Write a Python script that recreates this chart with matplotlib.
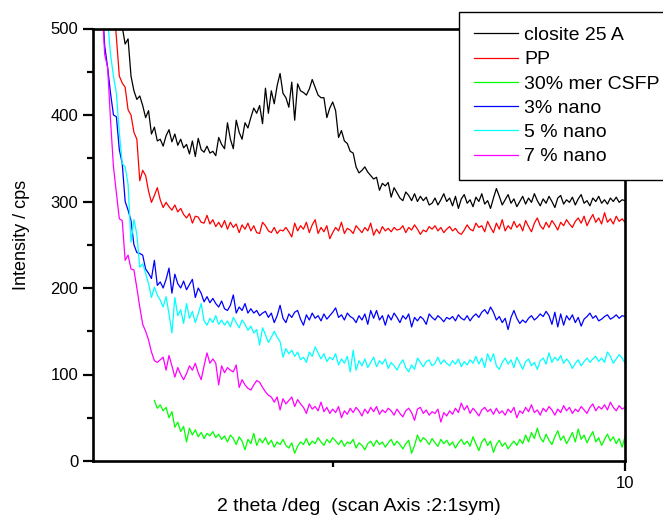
import numpy as np
import matplotlib
matplotlib.use("Agg")
import matplotlib.pyplot as plt

plt.rcParams['font.family'] = ['Liberation Sans', 'DejaVu Sans']

# 2 theta step of the scan (deg)
step = 0.05

# closite 25 A, from 1.00 deg
closite = [720, 690, 660, 630, 600, 575, 550, 525, 502, 482,
           488, 445, 428, 418, 422, 411, 397, 405, 378, 386,
           370, 372, 364, 376, 383, 369, 378, 365, 372, 362,
           366, 355, 370, 352, 373, 360, 357, 364, 356, 358,
           353, 374, 366, 361, 391, 372, 361, 394, 380, 372,
           391, 385, 397, 408, 402, 411, 390, 431, 402, 428,
           413, 434, 448, 425, 420, 409, 438, 394, 436, 428,
           426, 423, 430, 441, 432, 423, 420, 420, 397, 408,
           415, 405, 374, 382, 370, 367, 358, 356, 340, 333,
           336, 340, 334, 330, 326, 328, 313, 321, 318, 322,
           305, 316, 310, 304, 301, 311, 307, 301, 309, 300,
           306, 301, 305, 296, 298, 304, 296, 302, 309, 300,
           304, 295, 306, 292, 303, 308, 298, 302, 294, 305,
           300, 309, 297, 301, 292, 304, 315, 306, 296, 302,
           308, 298, 303, 294, 300, 306, 297, 304, 299, 309,
           301, 295, 303, 298, 306, 300, 293, 304, 307, 297,
           302, 299, 305, 296, 303, 308, 298, 301, 295, 304,
           300, 306, 298, 302, 297, 304, 300, 305, 299, 302, 301]

# PP, from 1.00 deg
pp = [720, 680, 640, 600, 565, 530, 490, 445, 437, 432,
      406, 400, 380, 372, 324, 336, 330, 312, 299, 307,
      316, 302, 293, 299, 294, 290, 296, 288, 292, 285,
      281, 286, 275, 283, 282, 276, 275, 284, 274, 279,
      271, 276, 270, 278, 268, 276, 270, 274, 264, 273,
      268, 275, 266, 272, 264, 263, 276, 272, 266, 264,
      270, 263, 267, 266, 270, 265, 259, 275, 266, 272,
      268, 276, 264, 273, 279, 263, 270, 265, 272, 257,
      264, 270, 266, 276, 263, 269, 267, 263, 272, 268,
      264, 270, 266, 275, 261, 268, 263, 271, 266, 269,
      265, 270, 267, 268, 272, 264, 270, 267, 273, 268,
      262, 267, 265, 271, 268, 272, 266, 270, 264, 268,
      271, 266, 269, 264, 262, 267, 273, 268, 266, 275,
      270, 272, 265, 277, 270, 264, 275, 268, 279, 266,
      272, 268, 277, 270, 274, 266, 278, 271, 265, 275,
      281, 272, 268, 276, 270, 278, 273, 267, 276, 272,
      279, 274, 270, 277, 281, 275, 283, 272, 279, 285,
      276, 281, 274, 287, 276, 280, 274, 283, 277, 280, 276]

# 30% mer CSFP, from 1.95 deg
csfp = [70, 61, 65, 58, 62, 50, 57, 39, 45, 34,
        40, 22, 38, 30, 36, 28, 33, 26, 32, 29,
        34, 27, 31, 25, 29, 22, 30, 26, 19, 28,
        23, 13, 25, 20, 32, 18, 26, 21, 27, 19,
        24, 16, 22, 19, 25, 18, 15, 21, 9, 17,
        22, 19, 26, 18, 23, 20, 27, 22, 18, 25,
        21, 27, 23, 19, 24, 17, 22, 20, 25, 15,
        21, 18, 13, 20, 23, 17, 24, 19, 22, 16,
        21, 25, 18, 23, 19, 14, 20, 24, 9, 18,
        30, 22, 27, 24, 19, 26, 21, 17, 25, 20,
        24, 18, 22, 15, 21, 25, 19, 23, 17, 28,
        20, 12, 22, 26, 18, 23, 10, 19, 24, 17,
        21, 14, 19, 23, 18, 25, 20, 30, 22, 33,
        26, 38, 27, 22, 31, 24, 19, 28, 35, 24,
        29, 20, 26, 33, 22, 37, 25, 30, 21, 28,
        34, 22, 27, 18, 25, 31, 23, 28, 20, 26,
        16, 28]

# 3% nano, from 1.00 deg
nano3 = [620, 540, 480, 455, 425, 400, 398, 360, 344, 300,
         290, 278, 250, 241, 240, 238, 222, 217, 211, 232,
         203, 207, 200, 210, 223, 194, 216, 205, 200, 208,
         198, 204, 210, 189, 200, 194, 184, 190, 183, 188,
         182, 178, 185, 176, 174, 180, 192, 171, 178, 174,
         182, 171, 176, 171, 174, 168, 171, 173, 166, 171,
         160, 168, 180, 165, 160, 170, 166, 172, 174, 164,
         157, 169, 163, 171, 165, 168, 162, 170, 164, 168,
         172, 177, 166, 169, 163, 171, 167, 165, 160, 168,
         163, 170, 158, 174, 165, 174, 163, 168, 157, 169,
         163, 171, 166, 160, 168, 164, 170, 155, 166, 162,
         167, 164, 158, 170, 166, 163, 168, 165, 161, 166,
         164, 167, 162, 169, 165, 163, 168, 162, 167, 170,
         166, 172, 175, 170, 178, 172, 163, 167, 160, 165,
         152, 166, 174, 165, 159, 163, 160, 165, 168, 163,
         166, 170, 167, 173, 168, 158, 172, 155, 170, 157,
         168, 163, 169, 160, 166, 156, 164, 167, 171, 165,
         168, 162, 164, 167, 169, 164, 166, 169, 165, 168, 167]

# 5 % nano, from 1.00 deg
nano5 = [700, 620, 560, 510, 470, 445, 425, 380, 344, 340,
         320, 253, 279, 262, 224, 228, 217, 205, 189, 201,
         192, 186, 178, 190, 170, 148, 189, 168, 175, 159,
         182, 165, 173, 160, 170, 182, 162, 157, 165, 160,
         168, 158, 163, 157, 162, 155, 166, 160, 154, 163,
         158, 151, 156, 148, 152, 134, 154, 146, 137, 143,
         150, 143, 138, 120, 130, 124, 128, 121, 126, 117,
         120, 114, 126, 121, 132, 125, 118, 124, 115, 120,
         117, 124, 111, 118, 113, 121, 103, 128, 105, 116,
         110, 118, 108, 114, 120, 109, 116, 112, 118, 107,
         114, 110, 105, 112, 117, 108, 103, 111, 106, 119,
         114, 109, 115, 117, 110, 113, 120, 112, 117, 113,
         110, 116, 112, 118, 109, 115, 111, 117, 113, 121,
         112, 119, 108, 124, 115, 124, 110, 106, 114, 119,
         112, 117, 108, 120, 113, 106, 115, 118, 110, 114,
         106, 116, 119, 112, 125, 114, 120, 116, 122, 113,
         118, 114, 107, 113, 117, 110, 115, 119, 114, 118,
         121, 115, 119, 114, 126, 121, 113, 118, 123, 119, 113]

# 7 % nano, from 1.00 deg
nano7 = [620, 530, 470, 455, 394, 340, 310, 280, 278, 232,
         238, 222, 221, 200, 178, 158, 150, 140, 126, 116,
         114, 117, 120, 105, 122, 110, 97, 108, 100, 94,
         101, 110, 105, 113, 102, 94, 110, 125, 113, 118,
         113, 88, 110, 102, 108, 105, 103, 111, 85, 94,
         88, 84, 82, 88, 93, 91, 85, 80, 76, 74,
         68, 74, 59, 72, 66, 70, 74, 63, 71, 66,
         62, 55, 66, 60, 63, 58, 68, 57, 62, 55,
         60, 56, 63, 50, 58, 54, 61, 56, 62, 58,
         52, 60, 55, 62, 57, 63, 54, 59, 56, 61,
         58, 53, 60, 55, 51, 58, 61, 56, 47, 60,
         62, 55, 59, 53, 57, 55, 60, 45, 56, 52,
         58, 54, 61, 56, 67, 59, 64, 55, 61, 57,
         52, 59, 62, 57, 60, 54, 61, 55, 58, 53,
         60, 56, 62, 50, 58, 55, 62, 57, 65, 56,
         59, 53, 61, 57, 63, 59, 53, 60, 56, 64,
         58, 62, 55, 60, 57, 63, 59, 55, 62, 66,
         58, 63, 60, 65, 59, 68, 62, 58, 64, 60, 62]

series = [
    ("closite 25 A", 1.00, closite, "#000000"),
    ("PP", 1.00, pp, "#ff0000"),
    ("30% mer CSFP", 1.95, csfp, "#00ff00"),
    ("3% nano", 1.00, nano3, "#0000ff"),
    ("5 % nano", 1.00, nano5, "#00ffff"),
    ("7 % nano", 1.00, nano7, "#ff00ff"),
]

fig = plt.figure(figsize=(6.63, 5.23), dpi=100)
ax = fig.add_axes([93/663, 1-461/523, 532/663, 432.5/523])

for name, x0, vals, col in series:
    x = x0 + step*np.arange(len(vals))
    ax.plot(x, vals, color=col, lw=0.9, label=name)

ax.set_xlim(0.9, 10)
ax.set_ylim(0, 500)
ax.set_xticks([10])
ax.set_xticks([5], minor=True)
ax.set_yticks(np.arange(0, 501, 100))
ax.set_yticks(np.arange(50, 500, 100), minor=True)
ax.tick_params(which='both', direction='out', width=1.6, labelsize=12,
               top=False, right=False)
ax.tick_params(which='major', length=7, pad=3.5)
ax.tick_params(which='minor', length=4)
for s in ax.spines.values():
    s.set_linewidth(1.9)

ax.set_xlabel("2 theta /deg  (scan Axis :2:1sym)", fontsize=14)
ax.xaxis.set_label_coords(0.5, -0.086)
ax.xaxis.label.set_va('top')
ax.set_ylabel("Intensity / cps", fontsize=13)
ax.yaxis.set_label_coords(-0.118, 0.522)

leg = fig.legend(loc='upper left', bbox_to_anchor=(459/663, 1-12/523),
                 fontsize=14, frameon=True, fancybox=False, framealpha=1,
                 edgecolor='black', borderaxespad=0, borderpad=0.75,
                 handlelength=2.3, handletextpad=0.3, labelspacing=0.34)
leg.get_frame().set_linewidth(1.0)

fig.savefig("out.png", dpi=100)
